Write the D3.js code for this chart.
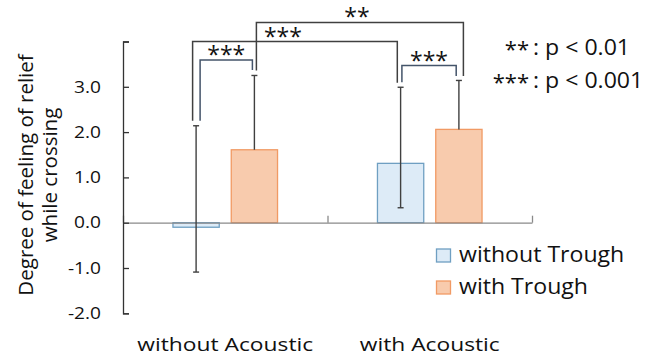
<!DOCTYPE html>
<html>
<head>
<meta charset="utf-8">
<script src="https://cdn.jsdelivr.net/npm/d3@7/dist/d3.min.js"></script>
<style>
  html, body { margin: 0; padding: 0; background: #fff; }
  svg { display: block; }
  text { font-family: "Open Sans", "Noto Sans", sans-serif; fill: #111; }
</style>
</head>
<body>
<svg id="chart" width="646" height="358"></svg>
<script>
// ---------------- data ----------------
const categories = ["without Acoustic", "with Acoustic"];
const seriesNames = ["without Trough", "with Trough"];
const meanWithoutTrough = [-0.10, 1.31];
const meanWithTrough = [1.61, 2.06];
const errHighWithoutTrough = [2.14, 2.99];
const errHighWithTrough = [3.25, 3.14];
const errLowWithoutTrough = [-1.09, 0.33];
const errLowWithTrough = [null, null];
const yTicks = [-2, -1, 0, 1, 2, 3, 4];
const yTickLabels = ["-2.0", "-1.0", "0.0", "1.0", "2.0", "3.0", ""];
// significance comparisons: bars referenced as [categoryIndex, seriesIndex]
const compFrom = [[0, 0], [0, 1], [0, 0], [1, 0]];
const compTo = [[0, 1], [1, 1], [1, 0], [1, 1]];
const compLabel = ["***", "**", "***", "***"];
const compTop = [3.59, 4.42, 4.00, 3.47];
const compLegFrom = [2.25, 3.36, 2.25, 3.10];
const compLegTo = [3.37, 3.24, 3.09, 3.24];
const sigLegendStars = ["**", "***"];
const sigLegendText = [": p < 0.01", ": p < 0.001"];

// ---------------- layout / style ----------------
const fills = ["#ddebf7", "#f8cbad"];
const strokes = ["#6f9fc2", "#f19a64"];
const compColor = ["#44546a", "#404040", "#404040", "#44546a"];
const compDx = [[4, -2], [2, 4.5], [-3.5, -3.3], [1.3, -2.7]];
const compLabelDx = [0, -3, -12, 0];

const svg = d3.select("#chart");
const y = d3.scaleLinear().domain([-2, 4]).range([313.3, 41.5]);
const x0 = d3.scaleBand().domain(categories).range([123, 532]).padding(0);
const x1 = d3.scaleBand().domain(seriesNames).range([0, x0.bandwidth()])
  .paddingInner(0.206).paddingOuter(0.857);

// horizontally widened text, anchored at (x, y)
function wideText(sel, x, yy, sx) {
  return sel.attr("transform", `translate(${x},${yy}) scale(${sx},1)`).attr("x", 0).attr("y", 0);
}

const data = categories.map((c, i) => ({
  cat: c,
  vals: [
    { s: seriesNames[0], si: 0, v: meanWithoutTrough[i], hi: errHighWithoutTrough[i], lo: errLowWithoutTrough[i] },
    { s: seriesNames[1], si: 1, v: meanWithTrough[i], hi: errHighWithTrough[i], lo: errLowWithTrough[i] }
  ]
}));
const cx = (ci, si) => x0(categories[ci]) + x1(seriesNames[si]) + x1.bandwidth() / 2;

// bars
const g = svg.append("g");
data.forEach((d, ci) => {
  g.selectAll(null).data(d.vals).enter().append("rect")
    .attr("x", v => x0(d.cat) + x1(v.s))
    .attr("width", x1.bandwidth())
    .attr("y", v => y(Math.max(0, v.v)))
    .attr("height", v => Math.abs(y(v.v) - y(0)))
    .attr("fill", v => fills[v.si])
    .attr("stroke", v => strokes[v.si])
    .attr("stroke-width", 1.3);
});

// x axis line at zero with ticks at category boundaries
const xb = d3.scaleLinear().domain([0, categories.length]).range(x0.range());
const xAxis = svg.append("g").attr("transform", `translate(0,${y(0)})`)
  .call(d3.axisBottom(xb).tickValues(d3.range(categories.length + 1)).tickSize(-7).tickSizeOuter(0).tickFormat(""));
xAxis.selectAll("path,line").attr("stroke", "#8a8a8a").attr("stroke-width", 1.3);

// error bars
data.forEach((d, ci) => {
  d.vals.forEach(v => {
    const x = cx(ci, v.si);
    const lo = v.lo === null ? v.v : v.lo;
    const eg = svg.append("g").attr("stroke", "#404040").attr("stroke-width", 1.4);
    eg.append("line").attr("x1", x).attr("x2", x).attr("y1", y(lo)).attr("y2", y(v.hi));
    eg.append("line").attr("x1", x - 3).attr("x2", x + 3).attr("y1", y(v.hi)).attr("y2", y(v.hi));
    if (v.lo !== null)
      eg.append("line").attr("x1", x - 3).attr("x2", x + 3).attr("y1", y(lo)).attr("y2", y(lo));
  });
});

// y axis
const yAxis = svg.append("g").attr("transform", "translate(123,0)")
  .call(d3.axisLeft(y).tickValues(yTicks).tickSizeInner(-6).tickSizeOuter(-6).tickPadding(22)
    .tickFormat((t, i) => yTickLabels[i]));
yAxis.selectAll("path,line").attr("stroke", "#333").attr("stroke-width", 1.3);
yAxis.selectAll(".tick text")
  .attr("font-size", 16.5).attr("fill", "#111").attr("font-family", "'Open Sans', sans-serif")
  .attr("transform", "translate(-22,0) scale(1.16,1)").attr("x", 0);

// y title
const yt = svg.append("text").attr("transform", "translate(33,175) rotate(-90)")
  .attr("text-anchor", "middle").attr("font-size", 20.5);
yt.append("tspan").attr("x", 0).attr("dy", 0).text("Degree of feeling of relief");
yt.append("tspan").attr("x", 0).attr("dy", 23.5).text("while crossing");

// category labels
svg.selectAll(".xl").data(categories).enter().append("text")
  .each(function (c) { wideText(d3.select(this), x0(c) + x0.bandwidth() / 2, 351, 1.2); })
  .attr("text-anchor", "middle").attr("font-size", 19).text(c => c);

// significance brackets
compFrom.forEach((f, i) => {
  const t = compTo[i];
  const xl = cx(f[0], f[1]) + compDx[i][0];
  const xr = cx(t[0], t[1]) + compDx[i][1];
  svg.append("path")
    .attr("d", `M${xl},${y(compLegFrom[i])}V${y(compTop[i])}H${xr}V${y(compLegTo[i])}`)
    .attr("fill", "none").attr("stroke", compColor[i]).attr("stroke-width", 1.5);
  svg.append("text").attr("x", (xl + xr) / 2 + compLabelDx[i]).attr("y", y(compTop[i]) + 3)
    .attr("text-anchor", "middle").attr("font-size", 23).text(compLabel[i]);
});

// significance legend
sigLegendStars.forEach((s, i) => {
  svg.append("text").attr("x", 529).attr("y", 57 + i * 33).attr("text-anchor", "end")
    .attr("font-size", 22).text(s);
  wideText(svg.append("text"), 533, 55 + i * 33, 1.1).attr("font-size", 21).text(sigLegendText[i]);
});

// series legend
seriesNames.forEach((s, i) => {
  svg.append("rect").attr("x", 436.5).attr("y", 249 + i * 32).attr("width", 14).attr("height", 13)
    .attr("fill", fills[i]).attr("stroke", strokes[i]).attr("stroke-width", 1.3);
  wideText(svg.append("text"), 459, 262 + i * 32, 1.1).attr("font-size", 21).text(s);
});
</script>
</body>
</html>
